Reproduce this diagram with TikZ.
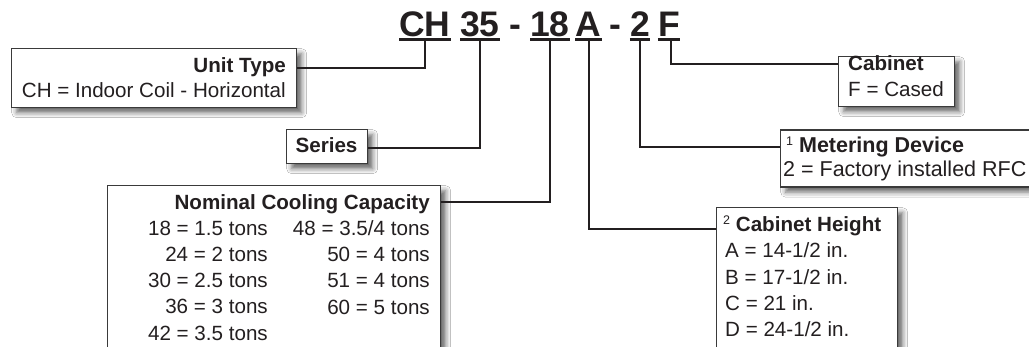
\documentclass[tikz,border=0pt]{standalone}
\usepackage{fontspec}
\setmainfont{Liberation Sans}
\usetikzlibrary{shadows.blur}
\definecolor{ink}{HTML}{231F20}
\definecolor{frame}{HTML}{3A3A3A}
\newcommand{\supdigit}[1]{{\normalfont\fontsize{12.5}{12.5}\selectfont\raisebox{7pt}{#1}}}
\begin{document}
\begin{tikzpicture}[x=1pt,y=-1pt,
  box/.style={draw=frame, line width=1.4pt, fill=white, anchor=north west, inner sep=0pt,
    blur shadow={shadow xshift=5pt, shadow yshift=-5pt, shadow blur radius=5pt, shadow opacity=60}},
  conn/.style={draw=ink, line width=2pt},
  uline/.style={draw=ink, line width=3pt},
  code/.style={font=\fontsize{35.5}{36}\selectfont\bfseries, text=ink, inner sep=0pt, anchor=base},
  txt/.style={font=\fontsize{20.6}{26}\selectfont, text=ink, inner sep=0pt},
  txtb/.style={font=\fontsize{20.6}{26}\selectfont\bfseries, text=ink, inner sep=0pt},
  mtxt/.style={font=\fontsize{21.5}{26}\selectfont, text=ink, inner sep=0pt},
  mtxtb/.style={font=\fontsize{21.5}{26}\selectfont\bfseries, text=ink, inner sep=0pt}]
\clip (0,0) rectangle (1029,347);
\fill[white] (0,0) rectangle (1029,347);

% ---- code letters ----
\node[code] (ch) at (425,37) {CH};
\node[code] (s35) at (480,37) {35};
\node[code] (d1) at (515,37) {-};
\node[code] (c18) at (550,37) {18};
\node[code] (ca) at (588.5,37) {A};
\node[code] (d2) at (615,37) {-};
\node[code] (c2) at (640,37) {2};
\node[code] (cf) at (669,37) {F};
\foreach \n in {ch,s35,c18,ca,c2,cf}
  \draw[uline] ([yshift=-2.5pt]\n.base west) -- ([yshift=-2.5pt]\n.base east);

% ---- boxes ----
\node[box, minimum width=285pt, minimum height=59pt] (unit) at (11,48) {};
\node[box, minimum width=81pt, minimum height=34pt] (series) at (286,129) {};
\node[box, minimum width=333pt, minimum height=200pt] (nominal) at (107,185) {};
\node[box, minimum width=116pt, minimum height=50pt] (cabinet) at (838,56) {};
\node[box, minimum width=260pt, minimum height=57pt] (meter) at (780,129.5) {};
\node[box, minimum width=181pt, minimum height=200pt] (cabh) at (716,207) {};

% ---- connectors ----
\draw[conn] ([yshift=-4pt]ch.base) |- ([yshift=-20pt]unit.north east);
\draw[conn] ([yshift=-4pt]s35.base) |- ([yshift=-19pt]series.north east);
\draw[conn] ([yshift=-4pt]c18.base) |- ([yshift=-17pt]nominal.north east);
\draw[conn] ([yshift=-4pt]ca.base) |- ([yshift=-22pt]cabh.north west);
\draw[conn] ([yshift=-4pt]c2.base) |- ([yshift=-17.5pt]meter.north west);
\draw[conn] ([yshift=-4pt,xshift=1.5pt]cf.base) |- ([yshift=-8pt]cabinet.north west);

% ---- texts ----
\node[txtb, anchor=base east] (unitT) at (286,73) {Unit Type};
\node[txt, anchor=base east] (unitL) at (286,98) {CH = Indoor Coil - Horizontal};

\node[txtb, anchor=base] (seriesT) at (326.5,153) {Series};

\node[txtb, anchor=base east] (nomT) at (430,210) {Nominal Cooling Capacity};
\node[txt, anchor=base east] (n18) at (268,236) {18 = 1.5 tons};
\node[txt, anchor=base east] (n24) at (268,262) {24 = 2 tons};
\node[txt, anchor=base east] (n30) at (268,288) {30 = 2.5 tons};
\node[txt, anchor=base east] (n36) at (268,314) {36 = 3 tons};
\node[txt, anchor=base east] (n42) at (268,341) {42 = 3.5 tons};
\node[txt, anchor=base east] (n48) at (430,236) {48 = 3.5/4 tons};
\node[txt, anchor=base east] (n50) at (430,262) {50 = 4 tons};
\node[txt, anchor=base east] (n51) at (430,288) {51 = 4 tons};
\node[txt, anchor=base east] (n60) at (430,315) {60 = 5 tons};

\node[txtb, anchor=base west] (cabT) at (848,71) {Cabinet};
\node[txt, anchor=base west] (cabL) at (848,97) {F = Cased};

\node[mtxtb, anchor=base west] (metT) at (786,153) {\supdigit{1} Metering Device};
\node[mtxt, anchor=base west] (metL) at (783,177) {2 = Factory installed RFC};

\node[txtb, anchor=base west] (chT) at (723,232) {\supdigit{2} Cabinet Height};
\node[txt, anchor=base west] (chA) at (725,258) {A = 14-1/2 in.};
\node[txt, anchor=base west] (chB) at (725,285) {B = 17-1/2 in.};
\node[txt, anchor=base west] (chC) at (725,311) {C = 21 in.};
\node[txt, anchor=base west] (chD) at (725,337) {D = 24-1/2 in.};
\end{tikzpicture}
\end{document}
